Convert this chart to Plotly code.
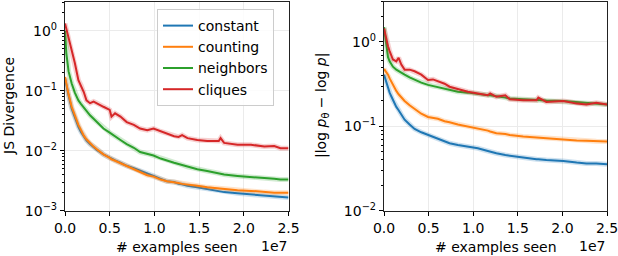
import plotly.graph_objects as go

# ---------------- data (x in units of 1e7 examples) ----------------
x_left = [0, 0.015, 0.04, 0.075, 0.11, 0.15, 0.18, 0.21, 0.24, 0.28, 0.32, 0.36, 0.43, 0.5, 0.52,
          0.56, 0.62, 0.69, 0.77, 0.84, 0.92, 0.99, 1.07, 1.14, 1.22, 1.27, 1.31, 1.37, 1.48, 1.59,
          1.72, 1.74, 1.78, 1.93, 2.08, 2.23, 2.34, 2.41, 2.5]

js_constant = [0.16, 0.12, 0.083, 0.050, 0.035, 0.025, 0.0204, 0.017, 0.0148, 0.0129, 0.0115, 0.0102,
               0.0087, 0.0076, 0.0074, 0.0069, 0.0063, 0.0056, 0.0051, 0.0046, 0.0041, 0.0038, 0.0034,
               0.0031, 0.0030, 0.0028, 0.00275, 0.0026, 0.00245, 0.00229, 0.00214, 0.0021, 0.00204,
               0.00195, 0.00186, 0.00178, 0.0017, 0.00166, 0.00166]
js_counting = [0.17, 0.126, 0.087, 0.054, 0.038, 0.027, 0.022, 0.0178, 0.0155, 0.0132, 0.0117, 0.0105,
               0.0087, 0.0076, 0.0072, 0.0068, 0.0062, 0.0055, 0.0050, 0.0045, 0.0039, 0.0037, 0.0033,
               0.0031, 0.0030, 0.0029, 0.0028, 0.0027, 0.0026, 0.00245, 0.00234, 0.00234, 0.00229,
               0.00219, 0.00214, 0.00204, 0.0020, 0.0020, 0.0020]
js_neighbors = [1.0, 0.42, 0.21, 0.132, 0.093, 0.069, 0.060, 0.052, 0.046, 0.039, 0.034, 0.030, 0.0234,
                0.020, 0.019, 0.0174, 0.0151, 0.0129, 0.0112, 0.0095, 0.0089, 0.0083, 0.0074, 0.0068,
                0.0063, 0.0060, 0.0058, 0.0054, 0.0049, 0.0046, 0.0042, 0.0041, 0.0040, 0.0038, 0.0036,
                0.0035, 0.0034, 0.0033, 0.0033]
js_cliques = [1.32, 1.07, 0.79, 0.48, 0.29, 0.15, 0.123, 0.095, 0.069, 0.062, 0.066, 0.062, 0.054, 0.048,
              0.037, 0.042, 0.037, 0.030, 0.027, 0.0234, 0.0219, 0.0234, 0.0209, 0.0195, 0.0174, 0.0170,
              0.0182, 0.0162, 0.0151, 0.0145, 0.0145, 0.0162, 0.0135, 0.0126, 0.0126, 0.0117, 0.0120,
              0.0110, 0.0110]

x_right = [0, 0.015, 0.026, 0.045, 0.063, 0.08, 0.1, 0.138, 0.164, 0.194, 0.231, 0.287, 0.343, 0.418,
           0.493, 0.549, 0.604, 0.679, 0.735, 0.828, 0.94, 1.052, 1.164, 1.19, 1.26, 1.36, 1.41, 1.56,
           1.71, 1.73, 1.82, 2.01, 2.16, 2.27, 2.38, 2.5]

lp_constant = [0.41, 0.363, 0.33, 0.28, 0.251, 0.229, 0.204, 0.17, 0.155, 0.138, 0.12, 0.105, 0.093,
               0.085, 0.079, 0.076, 0.071, 0.066, 0.063, 0.060, 0.0575, 0.055, 0.051, 0.050, 0.048,
               0.0457, 0.0447, 0.0427, 0.0407, 0.0407, 0.0398, 0.0389, 0.0372, 0.0363, 0.0363, 0.0355]
lp_counting = [0.48, 0.457, 0.437, 0.41, 0.37, 0.34, 0.31, 0.263, 0.24, 0.219, 0.2, 0.178, 0.162, 0.141,
               0.129, 0.126, 0.123, 0.115, 0.112, 0.105, 0.1, 0.095, 0.089, 0.087, 0.083, 0.081, 0.079,
               0.076, 0.074, 0.074, 0.072, 0.069, 0.068, 0.0676, 0.0668, 0.066]
lp_neighbors = [1.5, 1.12, 0.87, 0.66, 0.59, 0.55, 0.51, 0.47, 0.45, 0.43, 0.41, 0.38, 0.355, 0.33, 0.31,
                0.30, 0.295, 0.28, 0.27, 0.257, 0.251, 0.24, 0.234, 0.234, 0.229, 0.219, 0.214, 0.209,
                0.204, 0.204, 0.202, 0.2, 0.195, 0.19, 0.186, 0.182]
lp_cliques = [1.45, 1.2, 1.05, 0.89, 0.78, 0.69, 0.62, 0.59, 0.65, 0.54, 0.47, 0.47, 0.45, 0.41, 0.355,
              0.36, 0.34, 0.32, 0.295, 0.275, 0.257, 0.245, 0.234, 0.245, 0.224, 0.234, 0.209, 0.204,
              0.204, 0.219, 0.195, 0.2, 0.186, 0.182, 0.19, 0.182]

names = ["constant", "counting", "neighbors", "cliques"]
colors = ["#1f77b4", "#ff7f0e", "#2ca02c", "#d62728"]
left_series = [js_constant, js_counting, js_neighbors, js_cliques]
right_series = [lp_constant, lp_counting, lp_neighbors, lp_cliques]

x_ticks = [0, 0.5, 1.0, 1.5, 2.0, 2.5]
x_ticktext = ["0.0", "0.5", "1.0", "1.5", "2.0", "2.5"]
y_left_ticks = [1e-3, 1e-2, 1e-1, 1e0]
y_left_text = ["10<sup>−3</sup>", "10<sup>−2</sup>", "10<sup>−1</sup>", "10<sup>0</sup>"]
y_right_ticks = [1e-2, 1e-1, 1e0]
y_right_text = ["10<sup>−2</sup>", "10<sup>−1</sup>", "10<sup>0</sup>"]

FONT = "DejaVu Sans"
FS = 14
fig = go.Figure()


def hexa(c, a):
    c = c.lstrip("#")
    return "rgba(%d,%d,%d,%.2f)" % (int(c[0:2], 16), int(c[2:4], 16), int(c[4:6], 16), a)


for xs, series, xa, ya, leg in [(x_left, left_series, "x", "y", True),
                                (x_right, right_series, "x2", "y2", False)]:
    for name, col, ys in zip(names, colors, series):
        fig.add_trace(go.Scatter(x=xs, y=ys, mode="lines", xaxis=xa, yaxis=ya,
                                 line=dict(color=hexa(col, 0.22), width=5),
                                 showlegend=False, hoverinfo="skip"))
        fig.add_trace(go.Scatter(x=xs, y=ys, mode="lines", name=name, xaxis=xa, yaxis=ya,
                                 line=dict(color=col, width=2), showlegend=leg))

minor_left = [m * 10 ** e for e in range(-3, 1) for m in range(2, 10)]
minor_right = [m * 10 ** e for e in range(-2, 1) for m in range(2, 10)]

ydom = [1 - 210.7 / 256, 1 - 1.5 / 256]
common_x = dict(range=[0, 2.5], tickvals=x_ticks, ticktext=x_ticktext, ticks="outside", ticklen=4,
                tickwidth=1, tickcolor="#000", showline=True, linecolor="#222", linewidth=1.2,
                mirror=True, showgrid=True, gridcolor="#ebebeb", gridwidth=1, zeroline=False,
                automargin=False, ticklabeloverflow="allow",
                tickfont=dict(family=FONT, size=FS, color="#000"))
common_y = dict(type="log", ticks="outside", ticklen=4, tickwidth=1, tickcolor="#000",
                showline=True, linecolor="#222", linewidth=1.2, mirror=True, showgrid=True,
                gridcolor="#ebebeb", gridwidth=1, zeroline=False, automargin=False,
                ticklabeloverflow="allow",
                tickfont=dict(family=FONT, size=FS, color="#000"))

fig.update_layout(
    template="none",
    width=618, height=256, margin=dict(l=0, r=0, t=0, b=0, pad=0),
    paper_bgcolor="white", plot_bgcolor="white",
    font=dict(family=FONT, size=FS, color="#000"),
    xaxis=dict(domain=[65 / 618, 288.5 / 618], anchor="y", **common_x),
    yaxis=dict(domain=ydom, anchor="x", range=[-3, 0.487], tickvals=y_left_ticks,
               ticktext=y_left_text,
               minor=dict(tickvals=minor_left, ticks="outside", ticklen=2, tickcolor="#000",
                          tickwidth=0.8, showgrid=False),
               **common_y),
    xaxis2=dict(domain=[384 / 618, 607 / 618], anchor="y2", **common_x),
    yaxis2=dict(domain=ydom, anchor="x2", range=[-2, 0.48], tickvals=y_right_ticks,
                ticktext=y_right_text,
                minor=dict(tickvals=minor_right, ticks="outside", ticklen=2, tickcolor="#000",
                           tickwidth=0.8, showgrid=False),
                **common_y),
    legend=dict(x=157 / 618, y=1 - 9 / 256, xanchor="left", yanchor="top",
                bgcolor="rgba(255,255,255,0.85)", bordercolor="#cccccc", borderwidth=1,
                font=dict(family=FONT, size=FS, color="#000"), tracegroupgap=0),
    showlegend=True,
)

annots = [
    dict(text="# examples seen", x=(65 + 288.5) / 2 / 618, y=1 - 247 / 256),
    dict(text="# examples seen", x=(384 + 607) / 2 / 618, y=1 - 247 / 256),
    dict(text="1e7", x=288.5 / 618, y=1 - 246 / 256, xanchor="right"),
    dict(text="1e7", x=607 / 618, y=1 - 246 / 256, xanchor="right"),
    dict(text="JS Divergence", x=9 / 618, y=1 - 106 / 256, textangle=-90),
    dict(text="|log <i>p</i><sub>θ</sub> − log <i>p</i>|", x=322 / 618, y=1 - 106 / 256,
         textangle=-90),
]
for a in annots:
    fig.add_annotation(xref="paper", yref="paper", showarrow=False,
                       xanchor=a.get("xanchor", "center"), yanchor="middle",
                       x=a["x"], y=a["y"], text=a["text"], textangle=a.get("textangle", 0),
                       font=dict(family=FONT, size=FS, color="#000"))

fig.write_html("out.html", config={"displayModeBar": False},
               post_script="document.body.style.margin='0px';")
